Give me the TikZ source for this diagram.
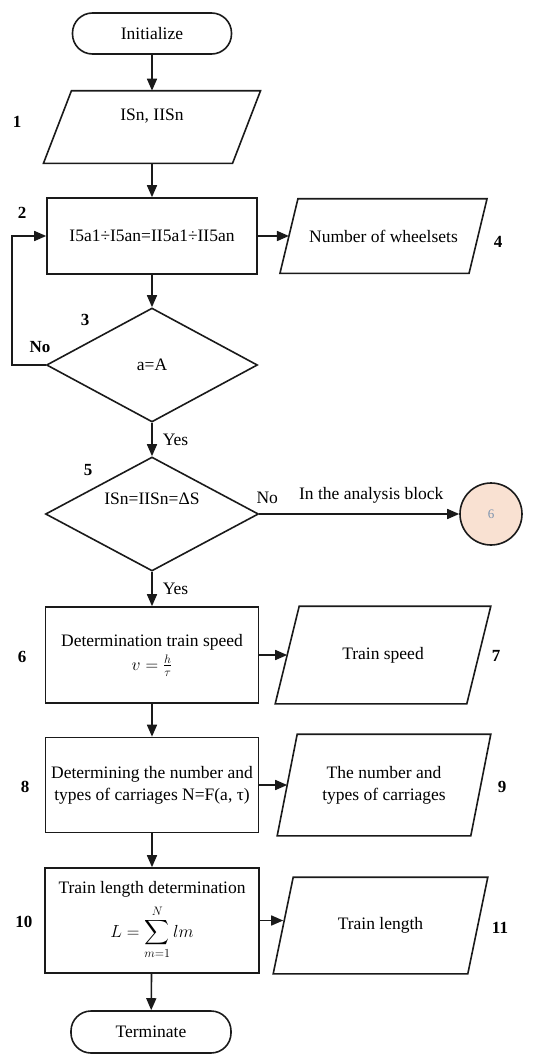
\RequirePackage{fix-cm}
\documentclass[tikz,border=0pt]{standalone}
\usepackage{amsmath}
\usepackage{fontspec}
\setmainfont{Liberation Serif}
\usepackage{tikz}
\usetikzlibrary{arrows.meta,shapes.geometric,calc}
\definecolor{cLine}{HTML}{1A1A1A}
\definecolor{cJumpF}{HTML}{F9E1D2}
\definecolor{cJumpT}{HTML}{7D93AE}
\tikzset{
  fcbase/.style={draw=cLine,line width=1.6pt,align=center,inner sep=2pt,
      font=\fontsize{17.5}{22}\selectfont},
  fcterm/.style={fcbase,rounded corners=20pt,minimum width=159pt,minimum height=41pt},
  fcproc/.style={fcbase,minimum width=213pt},
  fcdec/.style={fcbase,diamond,inner sep=0pt},
  fcio/.style={fcbase,draw=none},
  fcjump/.style={circle,draw=cLine,line width=1.6pt,fill=cJumpF,minimum size=62pt,
      text=cJumpT,font=\fontsize{13}{14}\selectfont},
  fcline/.style={draw=cLine,line width=1.6pt},
  fcflow/.style={fcline,-{Triangle[length=12pt,width=10pt]}},
  fcnum/.style={font=\fontsize{17}{20}\selectfont\bfseries,inner sep=1pt},
  fctxt/.style={font=\fontsize{17.5}{22}\selectfont,inner sep=1pt,align=center},
}
\newcommand{\iobox}[8][]{%
  \node[fcio,#1,minimum width=#5pt,minimum height=#6pt] (#2) at (#3,#4) {#8};
  \draw[fcline] ($(#2.north west)+(#7,0)$) -- ($(#2.north east)+(#7,0)$)
    -- ($(#2.south east)-(#7,0)$) -- ($(#2.south west)-(#7,0)$) -- cycle;}
\newcommand{\stepno}[3]{\node[fcnum] (n#3) at (#1,#2) {#3};}

\begin{document}
\begin{tikzpicture}[x=1pt,y=-1pt]
  \useasboundingbox (0,0) rectangle (544,1055);

  \node[fcterm] (init) at (152,33.5) {Initialize};
  \iobox[label={[fctxt,yshift=11pt]center:{ISn, IISn}}]{inp}{152}{127}{187.5}{71}{14}{}
  \node[fcproc,minimum width=210pt,minimum height=76pt] (cmp) at (152,236)
    {I5a1÷I5an=II5a1÷II5an};
  \iobox{whl}{383.5}{236}{187.5}{73}{9}{Number of wheelsets}
  \node[fcdec,minimum width=211pt,minimum height=114pt] (chkA) at (152,365) {a=A};
  \node[fcdec,minimum width=213pt,minimum height=114pt,
    label={[fctxt,yshift=15pt]center:{ISn=IISn=ΔS}}] (chkS) at (152,514) {};
  \node[fcjump] (jump) at (491,514) {6};
  \node[fcproc,minimum height=96pt] (spd) at (152,655)
    {Determination train speed\\[2pt]$v=\frac{h}{\tau}$};
  \iobox{ospd}{383}{655}{190}{96}{12}{Train speed}
  \node[fcproc,minimum height=95pt] (car) at (152,785)
    {Determining the number and\\types of carriages N=F(a, τ)};
  \iobox{ocar}{384}{785}{192}{100}{10}{The number and\\types of carriages}
  \node[fcproc,minimum width=214pt,minimum height=105pt] (len) at (152,920.5)
    {Train length determination\\[7pt]$\displaystyle L=\sum_{m=1}^{N} lm$};
  \iobox{olen}{380.5}{925.5}{193}{95}{10}{Train length}
  \node[fcterm,minimum width=160pt,minimum height=42pt] (stop) at (151,1032) {Terminate};

  \stepno{17}{122}{1}\stepno{22}{213}{2}\stepno{85}{320}{3}\stepno{498}{242}{4}
  \stepno{88}{470}{5}\stepno{22}{657}{6}\stepno{496}{656}{7}\stepno{25}{787}{8}
  \stepno{502}{787}{9}\stepno{24}{922}{10}\stepno{500}{928}{11}
  \node[fcnum] (noA) at (40,347) {No};

  \draw[fcflow] (init) -- (inp);
  \draw[fcflow] (inp) -- (cmp);
  \draw[fcflow] (cmp) -- (whl);
  \draw[fcflow] (cmp) -- (chkA);
  \draw[fcflow] (chkA.west) -- ++(-34,0) |- (cmp.west);
  \draw[fcflow] (chkA) -- node[fctxt,right=9pt]{Yes} (chkS);
  \draw[fcflow] (chkS) -- node[fctxt,above=9pt,pos=0.04]{No}
    node[fctxt,above=9pt,pos=0.56]{In the analysis block} (jump);
  \draw[fcflow] (chkS) -- node[fctxt,right=9pt]{Yes} (spd);
  \draw[fcflow] (spd) -- (ospd);
  \draw[fcflow] (spd) -- (car);
  \draw[fcflow] (car) -- (ocar);
  \draw[fcflow] (car) -- (len);
  \draw[fcflow] (len.east) -- (len.east -| olen.west);
  \draw[fcflow] (len) -- (stop);
\end{tikzpicture}
\end{document}
